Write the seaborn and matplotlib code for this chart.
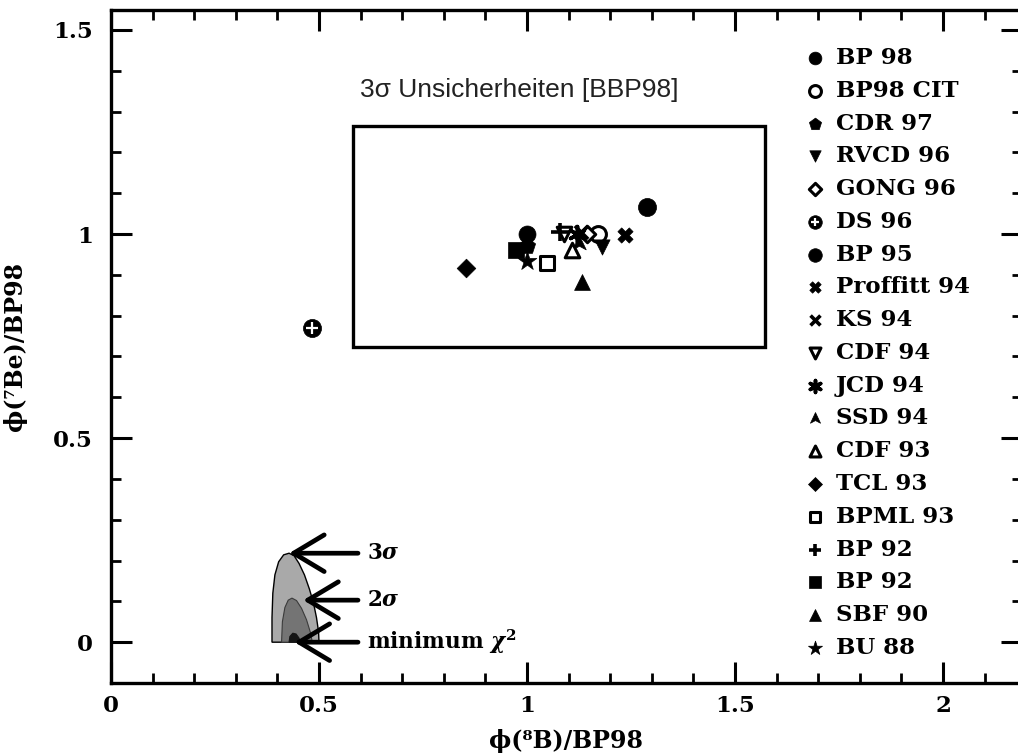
import numpy as np
import pandas as pd
import matplotlib
matplotlib.use("Agg")
import matplotlib.pyplot as plt
import seaborn as sns
from matplotlib.path import Path
from matplotlib.patches import Rectangle
from matplotlib.ticker import MultipleLocator, FuncFormatter
from matplotlib.legend_handler import HandlerTuple

# ---- solar model predictions, normalised to BP98 ----
models = ["BP 98", "BP98 CIT", "CDR 97", "RVCD 96", "GONG 96", "DS 96", "BP 95",
          "Proffitt 94", "KS 94", "CDF 94", "JCD 94", "SSD 94", "CDF 93", "TCL 93",
          "BPML 93", "BP 92", "BP 92", "SBF 90", "BU 88"]
phi_b8 = [1.000, 1.171, 1.000, 1.180, 1.145, 0.483, 1.288, 1.236, 1.130, 1.090,
          1.120, 1.125, 1.107, 0.853, 1.048, 1.080, 0.974, 1.132, 1.000]
phi_be7 = [1.000, 1.000, 0.970, 0.968, 1.000, 0.770, 1.066, 0.998, 1.005, 1.000,
           1.000, 0.977, 0.961, 0.917, 0.930, 1.005, 0.960, 0.882, 0.935]

# 3 sigma uncertainty box of BP98
box_b8 = [0.582, 1.572]
box_be7 = [0.723, 1.265]

# allowed regions from the fit (contours)
sig3_x = [0.387, 0.387, 0.389, 0.394, 0.403, 0.415, 0.428, 0.440, 0.452, 0.465,
          0.477, 0.487, 0.494, 0.499, 0.500]
sig3_y = [0.000, 0.060, 0.120, 0.165, 0.197, 0.214, 0.218, 0.212, 0.193, 0.165,
          0.130, 0.095, 0.060, 0.025, 0.000]
sig2_x = [0.410, 0.412, 0.418, 0.426, 0.435, 0.446, 0.458, 0.470, 0.479, 0.484]
sig2_y = [0.000, 0.050, 0.085, 0.103, 0.108, 0.102, 0.083, 0.055, 0.025, 0.000]
min_x = [0.428, 0.430, 0.437, 0.445, 0.452, 0.455]
min_y = [0.000, 0.014, 0.022, 0.020, 0.010, 0.000]

region_labels = ["3$\\sigma$", "2$\\sigma$", "minimum $\\chi^2$"]
region_tip_x = [0.428, 0.462, 0.441]
region_tip_y = [0.218, 0.103, 0.000]

# ---- marker styles ----
arrowhead = Path([(0, 1.0), (0.85, -0.8), (0, -0.35), (-0.85, -0.8), (0, 1.0)],
                 [Path.MOVETO, Path.LINETO, Path.LINETO, Path.LINETO, Path.CLOSEPOLY])
styles = [
    dict(marker="o", fill=True, size=150),
    dict(marker="o", fill=False, size=130),
    dict(marker="p", fill=True, size=150),
    dict(marker="v", fill=True, size=120),
    dict(marker="D", fill=False, size=70),
    dict(marker="o", fill=True, size=170, cross=True),
    dict(marker="o", fill=True, size=170),
    dict(marker="X", fill=True, size=120),
    dict(marker="x", fill=None, size=90),
    dict(marker="v", fill=False, size=110),
    dict(marker=(6, 2, 0), fill=None, size=130),
    dict(marker=arrowhead, fill=True, size=130),
    dict(marker="^", fill=False, size=110),
    dict(marker="D", fill=True, size=90),
    dict(marker="s", fill=False, size=100),
    dict(marker="+", fill=None, size=150),
    dict(marker="s", fill=True, size=120),
    dict(marker="^", fill=True, size=130),
    dict(marker="*", fill=True, size=200),
]

sns.set_theme(style="ticks")
plt.rcParams["font.family"] = ["DejaVu Serif"]
plt.rcParams["font.weight"] = "bold"
plt.rcParams["mathtext.fontset"] = "dejavuserif"
for key in ("text.color", "axes.labelcolor", "xtick.color", "ytick.color",
            "axes.edgecolor"):
    plt.rcParams[key] = "black"

W, H = 1018, 754
fig = plt.figure(figsize=(W / 100, H / 100), dpi=100)
fig.patch.set_facecolor("white")
ax = fig.add_axes([111 / W, 1 - 683 / H, (1022 - 111) / W, (683 - 10) / H])
ax.set_facecolor("white")

# contour regions
ax.fill(sig3_x, sig3_y, facecolor="#a9a9a9", edgecolor="black", lw=1.0, zorder=2)
ax.fill(sig2_x, sig2_y, facecolor="#747474", edgecolor="#3a3a3a", lw=0.8, zorder=3)
ax.fill(min_x, min_y, facecolor="#151515", edgecolor="#151515", lw=0.8, zorder=4)

for lab, tx, ty in zip(region_labels, region_tip_x, region_tip_y):
    ax.annotate(lab, xy=(tx, ty), xytext=(0.615, ty), ha="left", va="center",
                fontsize=15.5, fontweight="bold", zorder=6,
                arrowprops=dict(arrowstyle="->,head_length=1.0,head_width=0.6",
                                lw=3.4, color="black", mutation_scale=22,
                                shrinkA=4, shrinkB=0))

# uncertainty box
ax.add_patch(Rectangle((box_b8[0], box_be7[0]), box_b8[1] - box_b8[0],
                       box_be7[1] - box_be7[0], fill=False, lw=2.4,
                       edgecolor="black", zorder=2))
ax.text(0.599, 1.353, "3σ Unsicherheiten [BBP98]", family="Liberation Sans",
        fontweight="normal", fontsize=19, ha="left", va="center", color="#222222")

# model points
handles = []
for name, x, y, st in zip(models, phi_b8, phi_be7, styles):
    df = pd.DataFrame({"b8": [x], "be7": [y]})
    kw = dict(marker=st["marker"], s=st["size"], zorder=5)
    if st["fill"] is True:
        kw.update(color="black", edgecolor="black", linewidth=0.5)
    elif st["fill"] is False:
        kw.update(facecolor="white", edgecolor="black", linewidth=2.2)
    else:
        kw.update(color="black", linewidth=2.6)
    sns.scatterplot(data=df, x="b8", y="be7", ax=ax, legend=False, **kw)
    h = ax.collections[-1]
    if st.get("cross"):
        sns.scatterplot(data=df, x="b8", y="be7", ax=ax, legend=False,
                        marker="+", s=70, color="white", linewidth=1.6, zorder=6)
        h = (h, ax.collections[-1])
    handles.append(h)

leg = ax.legend(handles, models, loc="upper left",
                bbox_to_anchor=(806 / W, 1 - 47 / H), bbox_transform=fig.transFigure,
                frameon=False, markerscale=0.75, handlelength=0.8,
                handletextpad=0.5, labelspacing=0.47, borderpad=0, borderaxespad=0,
                handler_map={tuple: HandlerTuple(ndivide=1)},
                prop=dict(family="DejaVu Serif", weight="bold", size=16.5))

# axes
ax.set_xlim(0, (1022 - 111) / 416)
ax.set_ylim(-0.1, 1.549)
fmt = FuncFormatter(lambda v, p: f"{v:g}")
ax.xaxis.set_major_locator(MultipleLocator(0.5))
ax.xaxis.set_minor_locator(MultipleLocator(0.1))
ax.yaxis.set_major_locator(MultipleLocator(0.5))
ax.yaxis.set_minor_locator(MultipleLocator(0.1))
ax.xaxis.set_major_formatter(fmt)
ax.yaxis.set_major_formatter(fmt)
ax.tick_params(which="both", direction="in", top=True, right=True, color="black")
ax.tick_params(which="major", length=15, width=2.2, labelsize=16.5)
ax.tick_params(which="minor", length=7, width=2.0)
ax.tick_params(axis="y", which="major", pad=13)
ax.tick_params(axis="x", which="major", pad=9)
for lab in ax.get_xticklabels() + ax.get_yticklabels():
    lab.set_fontweight("bold")
for sp in ax.spines.values():
    sp.set_linewidth(2.4)
    sp.set_color("black")

ax.set_xlabel("ϕ(⁸B)/BP98", fontsize=17, fontweight="bold")
ax.set_ylabel("ϕ(⁷Be)/BP98", fontsize=17, fontweight="bold")
ax.xaxis.set_label_coords(0.5, -0.068)
ax.yaxis.set_label_coords(-0.092, 0.5)

fig.savefig("out.png", dpi=100)
